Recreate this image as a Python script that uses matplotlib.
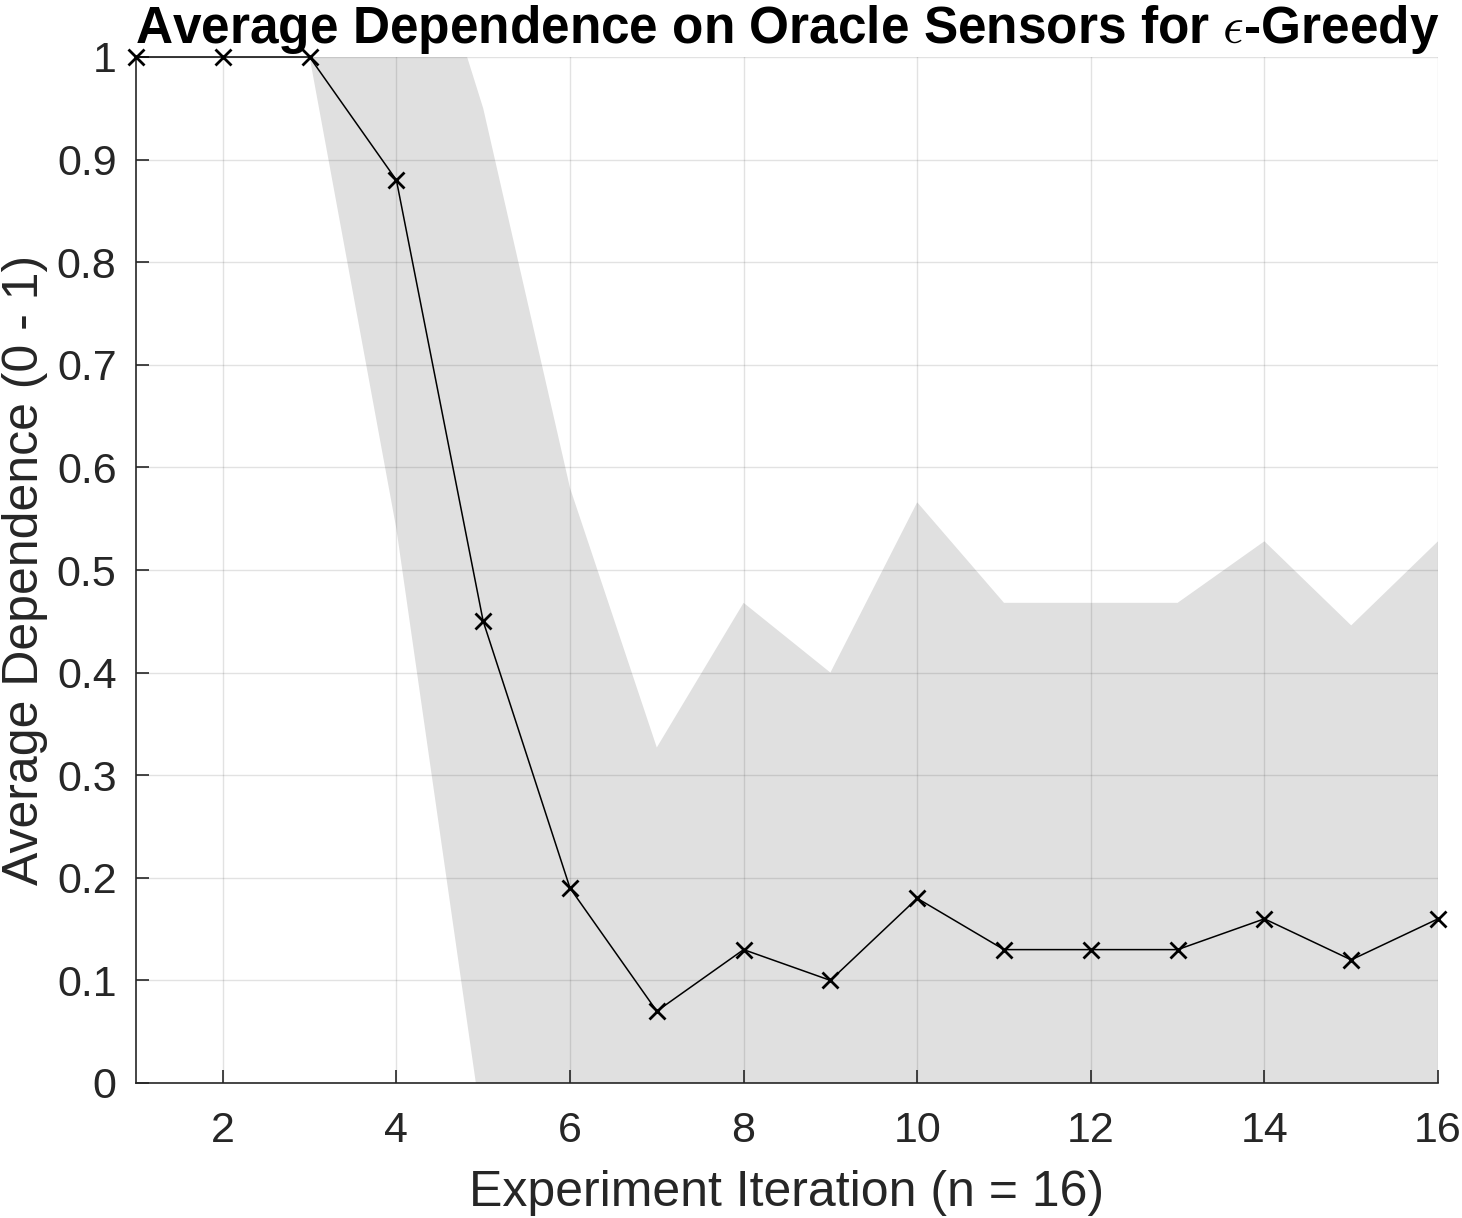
import numpy as np
import matplotlib
matplotlib.use("Agg")
import matplotlib.pyplot as plt

iterations = list(range(1, 17))
mean_dep = [1.00, 1.00, 1.00, 0.88, 0.45, 0.19, 0.07, 0.13, 0.10, 0.18, 0.13, 0.13, 0.13, 0.16, 0.12, 0.16]
std_dep = [0.00, 0.00, 0.00, 0.34, 0.50, 0.39, 0.257, 0.338, 0.30, 0.386, 0.338, 0.338, 0.338, 0.368, 0.326, 0.368]
x_ticks = [2, 4, 6, 8, 10, 12, 14, 16]
y_ticks = [0, 0.1, 0.2, 0.3, 0.4, 0.5, 0.6, 0.7, 0.8, 0.9, 1.0]
y_tick_labels = ["0", "0.1", "0.2", "0.3", "0.4", "0.5", "0.6", "0.7", "0.8", "0.9", "1"]

plt.rcParams['font.family'] = ['Liberation Sans', 'DejaVu Sans']
plt.rcParams['mathtext.fontset'] = 'cm'

fig = plt.figure(figsize=(14.62, 12.18), dpi=100)
ax = fig.add_axes([136/1462, 1 - 1083/1218, (1438-136)/1462, (1083-57)/1218])

x = np.array(iterations)
m = np.array(mean_dep)
s = np.array(std_dep)
ax.fill_between(x, m - s, m + s, color='#e0e0e0', linewidth=0, zorder=1)
ax.plot(x, m, color='black', linewidth=1.1, marker='x', markersize=11,
        markeredgewidth=2.0, zorder=5, clip_on=False)

ax.set_xlim(1, 16)
ax.set_ylim(0, 1)
ax.set_xticks(x_ticks)
ax.set_yticks(y_ticks)
ax.set_yticklabels(y_tick_labels)
ax.grid(True, color='#262626', alpha=0.13, linewidth=1.0, zorder=2)
ax.set_axisbelow(False)
for sp in ['top', 'right']:
    ax.spines[sp].set_visible(False)
for sp in ['left', 'bottom']:
    ax.spines[sp].set_color('#262626')
    ax.spines[sp].set_linewidth(1.2)
    ax.spines[sp].set_zorder(4)
ax.tick_params(direction='in', length=9.5, width=1.2, color='#262626',
               labelcolor='#262626', labelsize=31)
ax.tick_params(axis='x', pad=20)
ax.tick_params(axis='y', pad=14)

ax.set_xlabel('Experiment Iteration (n = 16)', fontsize=36, color='#262626', labelpad=14)
ax.set_ylabel('Average Dependence (0 - 1)', fontsize=36, color='#262626', labelpad=6)
ax.set_title(r'Average Dependence on Oracle Sensors for $\epsilon$-Greedy',
             fontsize=37, fontweight='bold', color='black', pad=10)

fig.savefig('out.png', dpi=100)
